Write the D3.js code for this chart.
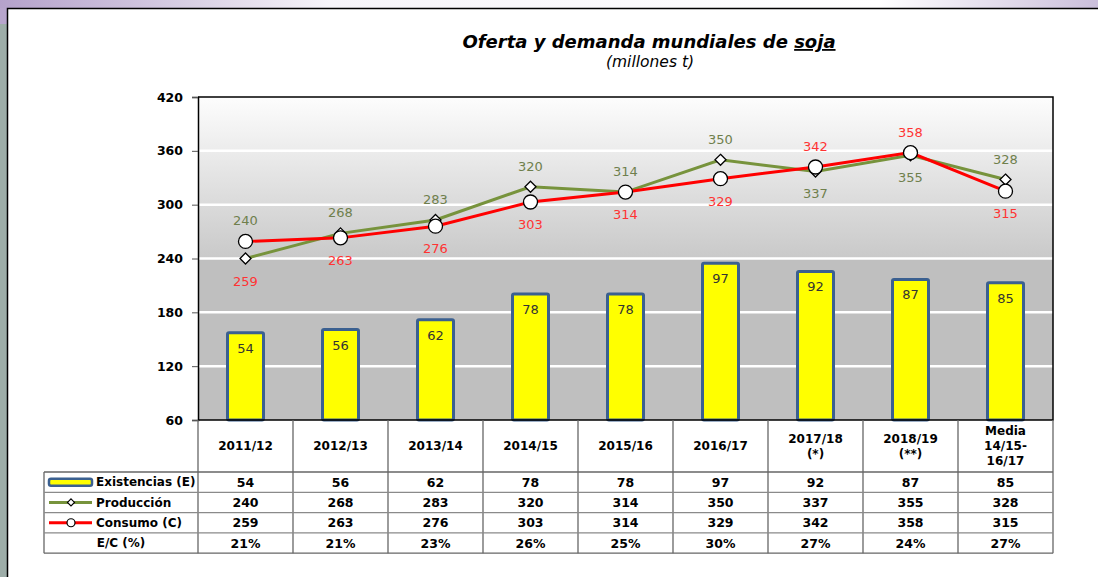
<!DOCTYPE html>
<html>
<head>
<meta charset="utf-8">
<script src="https://d3js.org/d3.v7.min.js"></script>
<style>
	html,body{margin:0;padding:0;background:#fff;}
	svg{display:block;}
	text{font-family:'DejaVu Sans',Verdana,sans-serif;}
</style>
</head>
<body>
<script>
var categories = ['2011/12','2012/13','2013/14','2014/15','2015/16','2016/17','2017/18','2018/19','Media'];
var categoryLines = [['2011/12'],['2012/13'],['2013/14'],['2014/15'],['2015/16'],['2016/17'],['2017/18','(*)'],['2018/19','(**)'],['Media','14/15-','16/17']];
var existencias = [54,56,62,78,78,97,92,87,85];
var produccion = [240,268,283,320,314,350,337,355,328];
var consumo = [259,263,276,303,314,329,342,358,315];
var ratioEC = ['21%','21%','23%','26%','25%','30%','27%','24%','27%'];
var yTicks = [60,120,180,240,300,360,420];
var seriesNames = ['Existencias (E)','Producción','Consumo (C)','E/C (%)'];

var width = 1098;
var height = 577;
var plotLeft = 198, plotRight = 1053, plotTop = 97, plotBottom = 420;
var rowH = 20.3;
var tableTop = 472;
var legendLeft = 44;
// columns where the production label goes under the points
var prodBelow = ['2017/18','2018/19'];

var svg = d3.select('body')
			.append('svg')
			.attr('width',width)
			.attr('height',height);
var defs = svg.append('defs');

var band = defs.append('linearGradient')
			.attr('id','band')
			.attr('x1','0').attr('x2','1').attr('y1','0').attr('y2','0');
[[0,'#b5a2cb'],[0.12,'#cdc1dc'],[0.3,'#f6f4f9'],[0.8,'#ffffff'],[1,'#cbbfdb']].forEach(function(s){
	band.append('stop').attr('offset',s[0]).attr('stop-color',s[1]);
});
var plotBg = defs.append('linearGradient')
			.attr('id','plotBg')
			.attr('x1','0').attr('x2','0').attr('y1','0').attr('y2','1');
[[0,'#fdfdfd'],[0.5,'#c9c9c9'],[0.5,'#bfbfbf'],[1,'#bfbfbf']].forEach(function(s){
	plotBg.append('stop').attr('offset',s[0]).attr('stop-color',s[1]);
});

// frame of the slide
svg.append('rect').attr('x',0).attr('y',0).attr('width',width).attr('height',8).attr('fill','url(#band)');
svg.append('rect').attr('x',0).attr('y',8).attr('width',7).attr('height',16).attr('fill','#b7a5cc');
svg.append('rect').attr('x',0).attr('y',24).attr('width',7).attr('height',height-24).attr('fill','#9dada8');
svg.append('path')
	.attr('d','M7.5,'+height+'V8.5H'+width)
	.attr('fill','none')
	.attr('stroke','#000')
	.attr('stroke-width',1.5);

// title
var title = svg.append('text')
			.attr('x',649)
			.attr('y',48)
			.attr('text-anchor','middle')
			.style('font-size','18px')
			.style('font-weight','bold')
			.style('font-style','italic')
			.attr('fill','#000');
title.append('tspan').text('Oferta y demanda mundiales de ');
title.append('tspan').style('text-decoration','underline').text('soja');
svg.append('text')
	.attr('x',650)
	.attr('y',67)
	.attr('text-anchor','middle')
	.style('font-size','15.5px')
	.style('font-style','italic')
	.text('(millones t)');

var x = d3.scaleBand()
			.domain(categories)
			.range([plotLeft,plotRight]);
var y = d3.scaleLinear()
			.domain([60,420])
			.range([plotBottom,plotTop]);
var y2 = d3.scaleLinear()
			.domain([0,200])
			.range([plotBottom,plotTop]);
var cx = function(i){ return x(categories[i])+x.bandwidth()/2; };

// plot area
svg.append('rect')
	.attr('x',plotLeft).attr('y',plotTop)
	.attr('width',plotRight-plotLeft).attr('height',plotBottom-plotTop)
	.attr('fill','url(#plotBg)');
svg.append('g')
	.selectAll('line')
	.data(yTicks.slice(1,-1))
	.enter()
	.append('line')
	.attr('x1',plotLeft).attr('x2',plotRight)
	.attr('y1',(d)=>y(d)).attr('y2',(d)=>y(d))
	.attr('stroke','#fff')
	.attr('stroke-width',2.5);

var yAxis = svg.append('g')
			.attr('transform','translate('+plotLeft+',0)')
			.call(d3.axisLeft(y).tickValues(yTicks).tickSize(6).tickPadding(9));
yAxis.select('.domain').attr('stroke','#000').attr('stroke-width',1.5);
yAxis.selectAll('.tick line').attr('stroke','#555');
yAxis.selectAll('text')
	.style('font-size','12.5px')
	.style('font-weight','bold')
	.style('font-family',"'DejaVu Sans',Verdana,sans-serif")
	.attr('fill','#000');

// bars
var barW = 36;
svg.append('g')
	.selectAll('rect')
	.data(existencias)
	.enter()
	.append('rect')
	.attr('x',(d,i)=>cx(i)-barW/2)
	.attr('y',(d)=>y2(d))
	.attr('width',barW)
	.attr('height',(d)=>plotBottom-y2(d))
	.attr('rx',1.5)
	.attr('fill','#ffff00')
	.attr('stroke','#3b6090')
	.attr('stroke-width',3);
svg.append('g')
	.selectAll('text')
	.data(existencias)
	.enter()
	.append('text')
	.attr('x',(d,i)=>cx(i))
	.attr('y',(d)=>y2(d)+20)
	.attr('text-anchor','middle')
	.style('font-size','13px')
	.attr('fill','#333')
	.text((d)=>d);

// lines
var line = d3.line()
			.x((d,i)=>cx(i))
			.y((d)=>y(d));
svg.append('path')
	.datum(produccion)
	.attr('d',line)
	.attr('fill','none')
	.attr('stroke','#77933c')
	.attr('stroke-width',3);
svg.append('path')
	.datum(consumo)
	.attr('d',line)
	.attr('fill','none')
	.attr('stroke','#ff0000')
	.attr('stroke-width',3);
svg.append('g')
	.selectAll('path')
	.data(produccion)
	.enter()
	.append('path')
	.attr('transform',(d,i)=>'translate('+cx(i)+','+y(d)+')')
	.attr('d','M0,-5.5L5.5,0L0,5.5L-5.5,0Z')
	.attr('fill','#fff')
	.attr('stroke','#000')
	.attr('stroke-width',1.3);
svg.append('g')
	.selectAll('circle')
	.data(consumo)
	.enter()
	.append('circle')
	.attr('cx',(d,i)=>cx(i))
	.attr('cy',(d)=>y(d))
	.attr('r',7)
	.attr('fill','#fff')
	.attr('stroke','#000')
	.attr('stroke-width',1.3);

// point labels
var labels = svg.append('g').style('font-size','13px').attr('text-anchor','middle');
categories.forEach(function(c,i){
	var yp = y(produccion[i]), yc = y(consumo[i]);
	var hi = Math.min(yp,yc), lo = Math.max(yp,yc);
	var below = prodBelow.indexOf(c) >= 0;
	labels.append('text')
		.attr('x',cx(i))
		.attr('y',below ? lo+27 : hi-16)
		.attr('fill','#6f7f4c')
		.text(produccion[i]);
	labels.append('text')
		.attr('x',cx(i))
		.attr('y',below ? hi-16 : lo+27)
		.attr('fill','#ff3333')
		.text(consumo[i]);
});

// plot border
svg.append('path')
	.attr('d','M'+plotLeft+','+plotTop+'H'+plotRight+'V'+plotBottom+'H'+plotLeft)
	.attr('fill','none')
	.attr('stroke','#000')
	.attr('stroke-width',1.5);

// data table
var table = svg.append('g');
var tableBottom = tableTop+rowH*4;
var gridColor = '#666';
x.domain().forEach(function(c){
	table.append('line')
		.attr('x1',x(c)).attr('x2',x(c))
		.attr('y1',plotBottom).attr('y2',tableBottom)
		.attr('stroke',gridColor).attr('stroke-width',1.3);
});
table.append('line')
	.attr('x1',plotRight).attr('x2',plotRight)
	.attr('y1',plotBottom).attr('y2',tableBottom)
	.attr('stroke',gridColor).attr('stroke-width',1.3);
table.append('line')
	.attr('x1',legendLeft).attr('x2',legendLeft)
	.attr('y1',tableTop).attr('y2',tableBottom)
	.attr('stroke',gridColor).attr('stroke-width',1.3);
d3.range(5).forEach(function(r){
	table.append('line')
		.attr('x1',legendLeft).attr('x2',plotRight)
		.attr('y1',tableTop+r*rowH).attr('y2',tableTop+r*rowH)
		.attr('stroke',r==0||r==4 ? gridColor : '#8a8a8a').attr('stroke-width',1.3);
});

// header row
categoryLines.forEach(function(lines,i){
	var midY = (plotBottom+tableTop)/2;
	lines.forEach(function(t,k){
		table.append('text')
			.attr('x',cx(i))
			.attr('y',midY+(k-(lines.length-1)/2)*15)
			.attr('dy','0.35em')
			.attr('text-anchor','middle')
			.style('font-size','12px')
			.style('font-weight','bold')
			.text(t);
	});
});

// value rows
[existencias,produccion,consumo,ratioEC].forEach(function(row,r){
	table.append('g')
		.selectAll('text')
		.data(row)
		.enter()
		.append('text')
		.attr('x',(d,i)=>cx(i))
		.attr('y',tableTop+r*rowH+rowH/2)
		.attr('dy','0.36em')
		.attr('text-anchor','middle')
		.style('font-size','12.5px')
		.style('font-weight','bold')
		.text((d)=>d);
});

// legend keys in first column
var keyX0 = 49, keyX1 = 92, keyMid = 71;
var rowMid = function(r){ return tableTop+r*rowH+rowH/2; };
table.append('rect')
	.attr('x',keyX0).attr('y',rowMid(0)-3.5)
	.attr('width',keyX1-keyX0).attr('height',7)
	.attr('rx',2)
	.attr('fill','#ffff00')
	.attr('stroke','#3b6090')
	.attr('stroke-width',2.5);
table.append('line')
	.attr('x1',keyX0).attr('x2',keyX1)
	.attr('y1',rowMid(1)).attr('y2',rowMid(1))
	.attr('stroke','#77933c').attr('stroke-width',3);
table.append('path')
	.attr('transform','translate('+keyMid+','+rowMid(1)+')')
	.attr('d','M0,-3.5L3.5,0L0,3.5L-3.5,0Z')
	.attr('fill','#fff').attr('stroke','#000').attr('stroke-width',1.2);
table.append('line')
	.attr('x1',keyX0).attr('x2',keyX1)
	.attr('y1',rowMid(2)).attr('y2',rowMid(2))
	.attr('stroke','#ff0000').attr('stroke-width',3);
table.append('circle')
	.attr('cx',keyMid).attr('cy',rowMid(2)).attr('r',4)
	.attr('fill','#fff').attr('stroke','#000').attr('stroke-width',1.2);
seriesNames.forEach(function(n,r){
	table.append('text')
		.attr('x',r==3 ? (legendLeft+plotLeft)/2 : 96)
		.attr('y',rowMid(r))
		.attr('dy','0.36em')
		.attr('text-anchor',r==3 ? 'middle' : 'start')
		.style('font-size','12px')
		.style('font-weight','bold')
		.text(n);
});
</script>
</body>
</html>
